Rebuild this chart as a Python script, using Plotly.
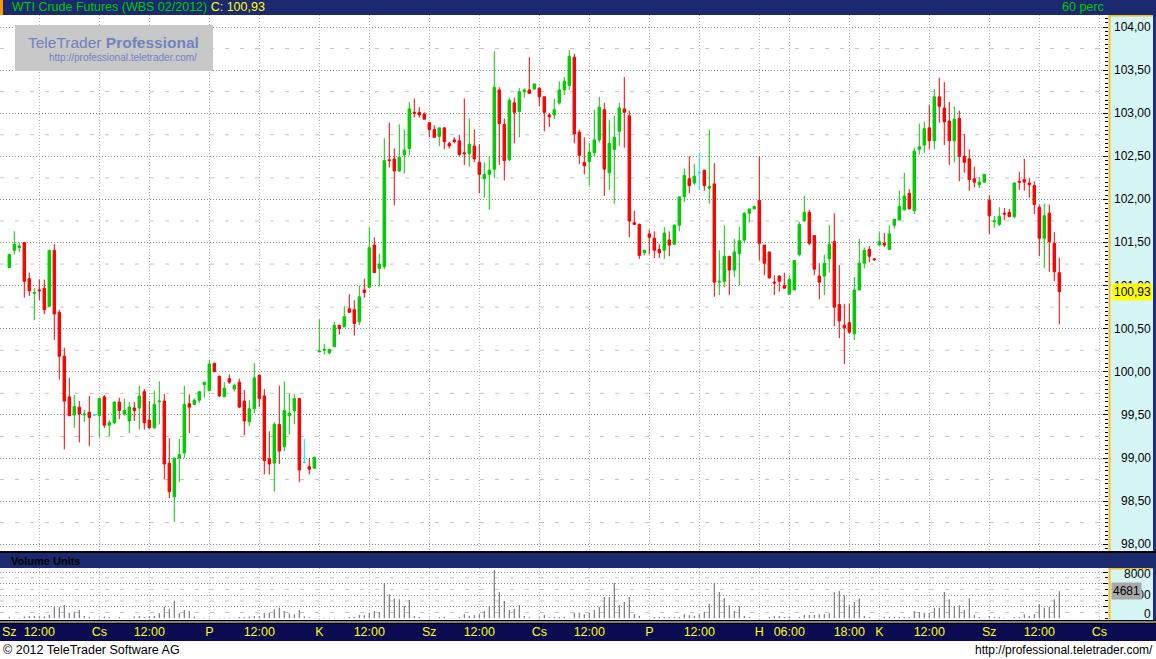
import numpy as np
import plotly.graph_objects as go

W, H = 1156, 659

# ---------------- data (hourly bars) ----------------
OPEN = [101.21, 101.41, 101.44, 101.50, 101.08, 100.91, 100.95, 100.97, 100.76, 101.41,
        100.69, 100.18, 99.71, 99.50, 99.59, 99.50, 99.53, 99.50, 99.49, 99.71,
        99.38, 99.41, 99.65, 99.51, 99.43, 99.58, 99.58, 99.77, 99.44, 99.35,
        99.65, 99.66, 98.94, 98.55, 99.00, 99.06, 99.63, 99.62, 99.67, 99.85,
        99.78, 100.10, 99.95, 99.71, 99.92, 99.80, 99.88, 99.66, 99.42, 99.57,
        99.96, 99.72, 98.99, 98.94, 99.39, 99.13, 99.49, 99.55, 99.69, 98.95,
        98.90, 98.88, 100.23, 100.25, 100.22, 100.29, 100.54, 100.52, 100.73, 100.72,
        100.58, 100.95, 100.98, 101.47, 101.20, 101.22, 102.46, 102.47, 102.33, 102.52,
        102.59, 103.01, 103.01, 102.99, 102.89, 102.81, 102.73, 102.83, 102.65, 102.69,
        102.68, 102.54, 102.53, 102.62, 102.43, 102.24, 102.29, 102.35, 103.27, 102.87,
        102.46, 103.12, 103.02, 103.25, 103.27, 103.28, 103.29, 103.19, 102.98, 102.98,
        103.12, 103.27, 103.32, 103.65, 102.78, 102.43, 102.44, 102.54, 102.69, 103.04,
        102.31, 102.58, 102.79, 103.05, 102.97, 101.73, 101.71, 101.38, 101.60, 101.55,
        101.42, 101.41, 101.53, 101.48, 101.70, 102.03, 102.24, 102.19, 102.31, 102.34,
        102.13, 102.18, 101.04, 101.05, 101.34, 101.18, 101.37, 101.53, 101.84, 101.89,
        101.99, 101.47, 101.39, 101.04, 101.11, 101.00, 100.90, 100.95, 101.36, 101.75,
        101.85, 101.58, 101.11, 101.11, 101.31, 101.51, 100.78, 100.54, 100.57, 100.44,
        100.95, 101.26, 101.42, 101.31, 101.47, 101.49, 101.42, 101.70, 101.76, 101.88,
        102.07, 101.87, 102.58, 102.63, 102.83, 102.68, 103.19, 103.06, 102.91, 102.68,
        102.94, 102.50, 102.47, 102.24, 102.17, 102.20, 101.99, 101.74, 101.71, 101.84,
        101.85, 101.80, 102.21, 102.23, 102.19, 102.16, 101.91, 101.55, 101.84, 101.49,
        101.15]
HIGH = [101.37, 101.63, 101.50, 101.50, 101.15, 100.97, 101.07, 101.07, 101.41, 101.48,
        100.72, 100.28, 99.93, 99.73, 99.66, 99.56, 99.72, 99.50, 99.69, 99.73,
        99.44, 99.65, 99.70, 99.69, 99.65, 99.65, 99.84, 99.80, 99.66, 99.78,
        99.89, 99.74, 99.23, 99.00, 99.22, 99.84, 99.74, 99.69, 99.77, 99.88,
        100.14, 100.10, 99.95, 99.88, 99.97, 99.86, 99.92, 99.79, 99.67, 100.10,
        99.97, 99.80, 99.31, 99.42, 99.84, 99.89, 99.75, 99.74, 99.69, 99.22,
        99.00, 99.01, 100.61, 100.32, 100.26, 100.58, 100.54, 100.76, 100.90, 100.83,
        101.00, 101.08, 101.68, 101.56, 101.37, 102.71, 102.89, 102.59, 102.87, 102.81,
        103.13, 103.17, 103.07, 103.01, 102.89, 102.86, 102.83, 102.83, 102.67, 102.72,
        102.75, 103.17, 102.94, 102.81, 102.64, 102.43, 102.50, 103.72, 103.30, 102.94,
        103.18, 103.18, 103.29, 103.29, 103.65, 103.34, 103.30, 103.19, 103.00, 103.17,
        103.37, 103.42, 103.73, 103.69, 102.81, 102.72, 102.65, 103.04, 103.19, 103.12,
        102.92, 102.97, 103.12, 103.42, 103.03, 101.87, 101.72, 101.41, 101.65, 101.63,
        101.48, 101.68, 101.63, 101.71, 102.03, 102.36, 102.50, 102.41, 102.53, 102.34,
        102.81, 102.42, 101.41, 101.70, 101.34, 101.54, 101.68, 101.85, 101.89, 101.92,
        102.50, 101.47, 101.39, 101.12, 101.12, 101.15, 101.12, 101.29, 101.74, 102.04,
        101.88, 101.58, 101.26, 101.36, 101.70, 101.84, 101.24, 100.79, 100.79, 101.10,
        101.54, 101.44, 101.46, 101.32, 101.62, 101.61, 101.70, 101.77, 102.10, 102.31,
        102.12, 102.60, 102.88, 102.90, 103.10, 103.28, 103.41, 103.36, 103.13, 103.08,
        103.03, 102.76, 102.58, 102.38, 102.26, 102.29, 102.05, 101.81, 101.91, 101.90,
        101.89, 102.20, 102.32, 102.47, 102.25, 102.21, 101.94, 101.95, 101.94, 101.62,
        101.32]
LOW = [101.20, 101.36, 101.39, 100.86, 100.88, 100.60, 100.83, 100.67, 100.75, 100.37,
       99.91, 99.10, 99.49, 99.35, 99.18, 99.42, 99.14, 99.49, 99.24, 99.35,
       99.25, 99.39, 99.45, 99.49, 99.29, 99.43, 99.33, 99.33, 99.34, 99.34,
       99.39, 98.75, 98.53, 98.26, 98.72, 99.00, 99.29, 99.62, 99.64, 99.70,
       99.78, 100.00, 99.71, 99.71, 99.86, 99.77, 99.58, 99.26, 99.37, 99.52,
       99.59, 98.81, 98.81, 98.61, 98.93, 99.08, 99.27, 99.39, 98.72, 98.94,
       98.81, 98.88, 100.23, 100.20, 100.20, 100.29, 100.43, 100.52, 100.69, 100.42,
       100.54, 100.86, 100.98, 101.15, 100.99, 101.19, 102.37, 101.93, 102.32, 102.30,
       102.51, 102.95, 102.95, 102.93, 102.72, 102.72, 102.62, 102.58, 102.59, 102.65,
       102.50, 102.40, 102.38, 102.43, 102.07, 102.02, 101.88, 102.25, 102.40, 102.22,
       102.44, 102.65, 102.72, 103.18, 103.23, 103.27, 103.08, 102.79, 102.84, 102.93,
       103.10, 103.21, 103.27, 102.65, 102.41, 102.29, 102.16, 102.50, 102.66, 102.04,
       102.11, 101.95, 102.62, 102.60, 101.56, 101.71, 101.31, 101.35, 101.36, 101.32,
       101.32, 101.31, 101.34, 101.48, 101.63, 101.97, 102.07, 102.17, 102.11, 102.10,
       101.95, 100.87, 100.89, 100.98, 100.89, 101.10, 101.00, 101.49, 101.73, 101.89,
       101.29, 101.12, 101.08, 100.89, 100.93, 100.96, 100.90, 100.95, 101.34, 101.74,
       101.47, 101.12, 100.84, 100.89, 101.15, 100.53, 100.39, 100.09, 100.44, 100.37,
       100.95, 101.20, 101.27, 101.29, 101.47, 101.45, 101.42, 101.66, 101.76, 101.87,
       101.89, 101.83, 102.52, 102.54, 102.58, 102.58, 102.89, 102.63, 102.40, 102.43,
       102.21, 102.31, 102.10, 102.14, 102.13, 102.19, 101.60, 101.67, 101.69, 101.76,
       101.80, 101.78, 102.11, 102.10, 102.02, 101.83, 101.34, 101.20, 101.16, 101.05,
       100.55]
CLOSE = [101.36, 101.48, 101.46, 101.05, 100.94, 100.92, 100.94, 100.72, 101.41, 100.67,
         100.18, 99.66, 99.49, 99.60, 99.51, 99.51, 99.47, 99.50, 99.69, 99.38,
         99.41, 99.65, 99.55, 99.55, 99.59, 99.55, 99.72, 99.41, 99.35, 99.62,
         99.66, 98.93, 98.61, 99.00, 99.04, 99.62, 99.59, 99.67, 99.77, 99.88,
         100.09, 100.00, 99.72, 99.81, 99.88, 99.84, 99.59, 99.43, 99.57, 99.93,
         99.69, 98.97, 98.93, 99.39, 99.08, 99.55, 99.52, 99.69, 98.86, 98.95,
         98.87, 99.01, 100.24, 100.26, 100.26, 100.54, 100.50, 100.64, 100.69, 100.56,
         100.87, 100.92, 101.44, 101.15, 101.25, 102.45, 102.45, 102.33, 102.49, 102.57,
         103.05, 103.00, 102.98, 102.93, 102.81, 102.72, 102.83, 102.67, 102.62, 102.67,
         102.52, 102.53, 102.64, 102.47, 102.29, 102.29, 102.34, 103.30, 102.88, 102.45,
         103.15, 103.01, 103.25, 103.27, 103.23, 103.34, 103.19, 103.01, 102.96, 103.04,
         103.27, 103.37, 103.66, 102.76, 102.51, 102.39, 102.55, 102.69, 103.07, 102.35,
         102.65, 102.72, 103.06, 103.01, 101.75, 101.71, 101.35, 101.41, 101.56, 101.41,
         101.38, 101.61, 101.47, 101.70, 102.03, 102.28, 102.16, 102.27, 102.31, 102.16,
         102.15, 101.04, 101.05, 101.34, 101.18, 101.39, 101.52, 101.84, 101.89, 101.92,
         101.49, 101.26, 101.09, 101.03, 101.05, 100.97, 101.07, 101.29, 101.71, 101.85,
         101.49, 101.19, 101.04, 101.26, 101.48, 100.75, 100.59, 100.51, 100.46, 100.95,
         101.26, 101.41, 101.34, 101.30, 101.51, 101.47, 101.60, 101.77, 101.92, 102.04,
         101.89, 102.56, 102.61, 102.82, 102.68, 103.19, 103.08, 102.90, 102.68, 102.93,
         102.50, 102.43, 102.23, 102.20, 102.20, 102.29, 101.81, 101.75, 101.80, 101.83,
         101.80, 102.19, 102.20, 102.20, 102.17, 101.94, 101.55, 101.81, 101.51, 101.16,
         100.93]
VOLUME = [230, 60, 115, 290, 400, 400, 290, 290, 580, 2010,
          2010, 2300, 980, 1150, 1440, 400, 230, 60, 115, 290,
          230, 60, 230, 60, 60, 290, 400, 230, 400, 400,
          860, 2010, 1670, 3050, 860, 1440, 1270, 290, 60, 115,
          115, 60, 115, 115, 115, 115, 230, 170, 290, 400,
          400, 980, 980, 1550, 1840, 1270, 810, 690, 1440, 290,
          170, 60, 60, 115, 115, 115, 60, 115, 230, 230,
          580, 520, 980, 1270, 1090, 6040, 4140, 3400, 3280, 2130,
          3170, 400, 230, 30, 115, 60, 230, 230, 60, 60,
          230, 690, 400, 520, 690, 1270, 2130, 8350, 4550, 2990,
          1440, 1670, 2300, 400, 170, 30, 170, 580, 170, 230,
          230, 230, 115, 980, 980, 690, 980, 1440, 1960, 3680,
          3680, 6160, 2300, 2820, 3680, 690, 400, 30, 115, 230,
          230, 230, 230, 230, 230, 690, 520, 400, 690, 1150,
          2530, 6160, 4550, 3450, 2240, 1270, 2130, 400, 230, 30,
          60, 30, 230, 400, 400, 230, 230, 30, 230, 580,
          580, 580, 690, 690, 860, 4550, 4720, 3970, 2240, 2820,
          3450, 400, 230, 30, 60, 230, 230, 230, 230, 230,
          230, 1270, 1090, 980, 980, 1840, 1840, 4550, 3280, 2130,
          2240, 1440, 3450, 580, 230, 60, 400, 230, 230, 115,
          30, 230, 230, 690, 400, 690, 2420, 1840, 2010, 3280,
          4681]

TIME_TICK_POS = [0, 6, 18, 28, 40, 50, 62, 72, 84, 94, 106, 116, 128, 138,
                 150, 156, 168, 174, 184, 196, 206, 218]
TIME_TICK_TEXT = ["Sz", "12:00", "Cs", "12:00", "P", "12:00", "K", "12:00", "Sz", "12:00",
                  "Cs", "12:00", "P", "12:00", "H", "06:00", "18:00", "K", "12:00", "Sz",
                  "12:00", "Cs"]
PRICE_TICKS = [98.0, 98.5, 99.0, 99.5, 100.0, 100.5, 101.0, 101.5, 102.0, 102.5,
               103.0, 103.5, 104.0]
PRICE_QUARTERS = [98.25, 98.75, 99.25, 99.75, 100.25, 100.75, 101.25, 101.75,
                  102.25, 102.75, 103.25, 103.75]
VOLUME_GRID = [2000, 4000, 6000, 8000]
VOLUME_HALF = [1000, 3000, 5000, 7000]
VOLUME_LABELS = [0, 4000, 8000]

TITLE = "WTI Crude Futures (WBS 02/2012)"
PERIOD = "60 perc"

# ---------------- geometry helpers ----------------
FONT = "Liberation Sans, Arial, sans-serif"


def fx(px):
    return px / W


def fy(py):
    return 1 - py / H


BAR_PX, FIRST_BAR_PX, PLOT_RIGHT = 5.0, 9.3, 1108
X_RANGE = [(0 - FIRST_BAR_PX) / BAR_PX, (PLOT_RIGHT - FIRST_BAR_PX) / BAR_PX]

MAIN_TOP, MAIN_BOT = 15, 551


def px_to_price(py):
    return 104 - (py - 27) / 86.2


Y_RANGE = [px_to_price(MAIN_BOT), px_to_price(MAIN_TOP)]

VOL_TOP, VOL_BOT = 568, 620


def px_to_vol(py):
    return (618.3 - py) * 8000 / 46.3


V_RANGE = [px_to_vol(VOL_BOT), px_to_vol(VOL_TOP)]

# ---------------- traces ----------------
o, h, l, c = (np.array(a) for a in (OPEN, HIGH, LOW, CLOSE))
idx = np.arange(len(OPEN))

fig = go.Figure()
for mask, col in [(c > o, "#00cc00"), (c < o, "#ff0000"), (c == o, "#00e8f0")]:
    style = dict(line=dict(color=col, width=1), fillcolor=col)
    fig.add_trace(go.Candlestick(
        x=idx[mask], open=o[mask], high=h[mask], low=l[mask], close=c[mask],
        increasing=style, decreasing=style, whiskerwidth=0,
        xaxis="x", yaxis="y", hoverinfo="skip", showlegend=False))

fig.add_trace(go.Bar(x=idx, y=VOLUME, width=0.22, xaxis="x2", yaxis="y2",
                     marker=dict(color="#707070", line=dict(width=0)),
                     hoverinfo="skip", showlegend=False))

# ---------------- background shapes ----------------
NAVY = "#1b2a6e"
NAVY_DARK = "#0b0b52"
AXIS_BG = "#d6f6f6"
AXIS_EDGE = "#eec020"
shapes = []


def prect(x0, y0, x1, y1, color, layer="below", line=None):
    shapes.append(dict(type="rect", xref="paper", yref="paper",
                       x0=fx(x0), x1=fx(x1), y0=fy(y1), y1=fy(y0),
                       fillcolor=color, line=line or dict(width=0), layer=layer))


prect(0, 0, W, 15, NAVY)
prect(0, 0, 3, 15, "#ff9900")
prect(1110, MAIN_TOP, 1153, MAIN_BOT, AXIS_BG)
prect(1108.5, MAIN_TOP, 1110.5, MAIN_BOT, AXIS_EDGE)
prect(1108.5, MAIN_TOP, 1153, MAIN_TOP + 1.5, AXIS_EDGE)
prect(1153, MAIN_TOP, W, VOL_BOT, "#1e2a8c")
prect(0, MAIN_BOT, W, 553, "#000000")
prect(0, 553, W, VOL_TOP, NAVY)
prect(1110, VOL_TOP, 1153, VOL_BOT, AXIS_BG)
prect(1108.5, VOL_TOP, 1110.5, VOL_BOT, AXIS_EDGE)
prect(1108.5, VOL_TOP, 1153, VOL_TOP + 1.5, AXIS_EDGE)
prect(0, VOL_BOT, W, 624, "#000000")
prect(0, 621.5, W, 622.5, "#ffffff")
prect(0, 624, W, 641, NAVY_DARK)
prect(15, 25, 213, 71, "#c8c8c8", layer="above")

# quarter dashed lines in the price panel
for q in PRICE_QUARTERS:
    shapes.append(dict(type="line", xref="x domain", yref="y", x0=0, x1=1, y0=q, y1=q,
                       line=dict(color="#c4c4c4", width=1, dash="4px,11px"), layer="below"))
# dashed odd-thousand lines in the volume panel
for v in VOLUME_HALF:
    shapes.append(dict(type="line", xref="x2 domain", yref="y2", x0=0, x1=1, y0=v, y1=v,
                       line=dict(color="#c4c4c4", width=1, dash="4px,11px"), layer="below"))
# vertical dotted lines in the volume panel
for p in TIME_TICK_POS[1:]:
    shapes.append(dict(type="line", xref="x2", yref="y2 domain", x0=p, x1=p, y0=0, y1=1,
                       line=dict(color="#b4b4b4", width=1, dash="1px,2px"), layer="below"))

# ---------------- annotations ----------------
ann = []


def text(x, y, s, size=12, color="#000000", xanchor="left", yref="paper", yshift=0,
         bg=None, bold=False, family=FONT):
    a = dict(x=fx(x), y=(fy(y) if yref == "paper" else y), xref="paper", yref=yref,
             text=("<b>%s</b>" % s) if bold else s, showarrow=False, xanchor=xanchor,
             yanchor="middle", yshift=yshift,
             font=dict(size=size, color=color, family=family))
    if bg:
        a.update(bgcolor=bg, borderpad=1)
    ann.append(a)


text(10, 7.5, '<span style="color:#00c800">%s</span> '
     '<span style="color:#ffff00">C: %s</span>' % (TITLE, f"{CLOSE[-1]:.2f}".replace(".", ",")),
     size=12.5)
text(1106, 7.5, PERIOD, size=12.5, color="#00c800", xanchor="right")

text(26, 42, 'TeleTrader <b>Professional</b>', size=15.5, color="#7282bf")
text(47, 57.5, "http://professional.teletrader.com/", size=10, color="#7282bf")

for p in PRICE_TICKS:
    text(1153, p, f"{p:.2f}".replace(".", ","), yref="y", xanchor="right")
text(1153, CLOSE[-1], f"{CLOSE[-1]:.2f}".replace(".", ","), yref="y", xanchor="right",
     bg="#ffff00")

vshift = {0: 4, 4000: 0, 8000: -2}
for v in VOLUME_LABELS:
    ann.append(dict(x=fx(1153), y=v, xref="paper", yref="y2", text=str(v), showarrow=False,
                    xanchor="right", yanchor="middle", yshift=vshift[v],
                    font=dict(size=12, color="#000000", family=FONT)))
ann.append(dict(x=fx(1111), y=VOLUME[-1], xref="paper", yref="y2", text=str(VOLUME[-1]),
                showarrow=False, xanchor="left", yanchor="middle", bgcolor="#a8a8a8",
                borderpad=1, font=dict(size=12, color="#000000", family=FONT)))

text(9, 560.5, "Volume Units", size=11, bold=True)
text(1, 650, "© 2012 TeleTrader Software AG", size=12.5)
text(1155, 650, "http://professional.teletrader.com/", size=12, xanchor="right")

# ---------------- layout ----------------
tick_common = dict(ticks="inside", ticklen=5, tickcolor="#000000", tickwidth=1,
                   showticklabels=False, zeroline=False, showline=False, fixedrange=True)

fig.update_layout(
    width=W, height=H, margin=dict(l=0, r=0, t=0, b=0), autosize=False,
    paper_bgcolor="#ffffff", plot_bgcolor="#ffffff",
    font=dict(family=FONT, size=12, color="#000000"),
    showlegend=False, hovermode=False, dragmode=False,
    boxgap=0.3, boxgroupgap=0.3,
    shapes=shapes, annotations=ann,
    xaxis=dict(domain=[0, fx(PLOT_RIGHT)], range=X_RANGE, anchor="y",
               tickvals=TIME_TICK_POS[1:], showticklabels=False, ticks="",
               showgrid=True, gridcolor="#b4b4b4", griddash="1px,2px", gridwidth=1,
               zeroline=False, showline=False, rangeslider=dict(visible=False),
               fixedrange=True),
    yaxis=dict(domain=[fy(MAIN_BOT), fy(MAIN_TOP)], range=Y_RANGE, anchor="x", side="right",
               tickvals=PRICE_TICKS, showgrid=True, gridcolor="#8e8e8e",
               griddash="1px,2px", gridwidth=1,
               minor=dict(dtick=0.05, tick0=0, ticks="inside", ticklen=3,
                          tickcolor="#000000", showgrid=False),
               **tick_common),
    yaxis3=dict(overlaying="y", anchor="x", side="left", range=Y_RANGE,
                tickvals=PRICE_TICKS, showgrid=False,
                minor=dict(dtick=0.05, tick0=0, ticks="inside", ticklen=3,
                           tickcolor="#000000", showgrid=False),
                **tick_common),
    xaxis2=dict(domain=[0, fx(PLOT_RIGHT)], range=X_RANGE, anchor="y2",
                tickvals=TIME_TICK_POS, ticktext=TIME_TICK_TEXT, ticks="",
                showgrid=False, zeroline=False, showline=False,
                tickfont=dict(color="#ffff00", size=12.5, family=FONT),
                ticklabelstandoff=2, fixedrange=True),
    yaxis2=dict(domain=[fy(VOL_BOT), fy(VOL_TOP)], range=V_RANGE, anchor="x2", side="right",
                tickvals=VOLUME_GRID, showgrid=True, gridcolor="#8e8e8e",
                griddash="1px,2px", gridwidth=1,
                minor=dict(dtick=1000, tick0=0, ticks="inside", ticklen=3,
                           tickcolor="#000000", showgrid=False),
                **tick_common),
    yaxis4=dict(overlaying="y2", anchor="x2", side="left", range=V_RANGE,
                tickvals=VOLUME_GRID, showgrid=False,
                minor=dict(dtick=1000, tick0=0, ticks="inside", ticklen=3,
                           tickcolor="#000000", showgrid=False),
                **tick_common),
)

fig.write_html("out.html", config={"displayModeBar": False, "staticPlot": True},
               post_script="document.body.style.margin='0';"
                           "document.body.style.overflow='hidden';")
